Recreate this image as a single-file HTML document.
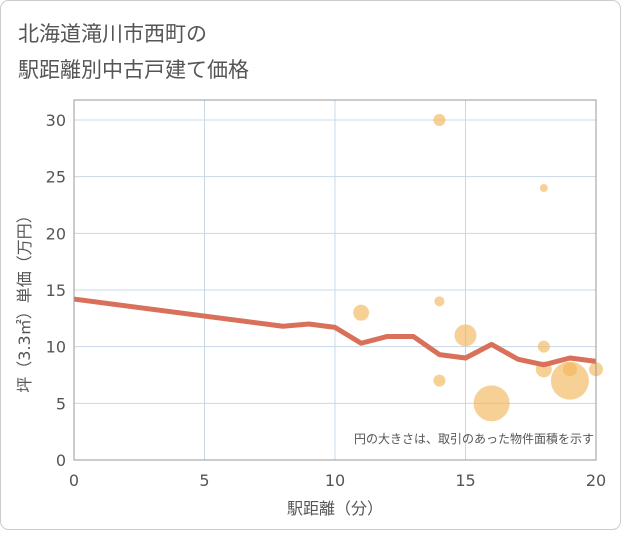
<!DOCTYPE html>
<html><head><meta charset="utf-8"><style>
body{margin:0;background:#fff;}
svg text{font-family:"DejaVu Sans","Noto Sans CJK JP",sans-serif;}
</style></head><body>
<svg width="621" height="530" xmlns="http://www.w3.org/2000/svg">
<rect x="0.5" y="0.5" width="620" height="529" rx="8" fill="#fff" stroke="#ccc"/>
<text x="18" y="41" font-size="21" fill="#555">北海道滝川市西町の</text>
<text x="18" y="77" font-size="21" fill="#555">駅距離別中古戸建て価格</text>
<g id="grid"></g>
<g id="bubbles"></g>
<path id="line" fill="none" stroke="#d9705a" stroke-width="5" stroke-linejoin="round"/>
<rect x="74" y="100" width="522" height="360" fill="none" stroke="#999"/>
<g id="ticks"></g>
<text x="335" y="514" font-size="16" fill="#555" text-anchor="middle">駅距離（分）</text>
<text transform="translate(30,300) rotate(-90)" font-size="16" fill="#555" text-anchor="middle">坪（3.3㎡）単価（万円）</text>
<text x="594" y="443" font-size="12" fill="#555" text-anchor="end">円の大きさは、取引のあった物件面積を示す</text>
</svg>
<script>
const xTicks=[0,5,10,15,20];
const yTicks=[0,5,10,15,20,25,30];
const lineX=[0,8,9,10,11,12,13,14,15,16,17,18,19,20];
const lineY=[14.2,11.8,12,11.7,10.3,10.9,10.9,9.3,9,10.2,8.9,8.4,9,8.7];
const bubX=[14,18,14,11,15,18,14,16,18,19,19,20];
const bubY=[30,24,14,13,11,10,7,5,8,8,7,8];
const bubR=[6,4,5,8,11,6,6,18,8,7,19,7];
const X=v=>74+v*522/20, Y=v=>460-v*340/30;
const NS="http://www.w3.org/2000/svg";
const g=document.getElementById('grid'),t=document.getElementById('ticks'),b=document.getElementById('bubbles');
function mk(tag,attrs,parent){const e=document.createElementNS(NS,tag);for(const k in attrs)e.setAttribute(k,attrs[k]);parent.appendChild(e);return e;}
xTicks.forEach(v=>{
 const l=mk('line',{x1:X(v),x2:X(v),y1:100,y2:460,stroke:'#c8d8e8'},g);
 
 
 const s=mk('text',{x:X(v),y:486,'font-size':16,fill:'#555','text-anchor':'middle'},t);s.textContent=v;
 
 
});
yTicks.forEach(v=>{
 const l=mk('line',{x1:74,x2:596,y1:Y(v),y2:Y(v),stroke:'#c8d8e8'},g);
 
 
 const s=mk('text',{x:66,y:Y(v)+6,'font-size':16,fill:'#555','text-anchor':'end'},t);s.textContent=v;
 
 
});
bubX.forEach((v,i)=>{
 const c=mk('circle',{cx:X(v),cy:Y(bubY[i]),r:bubR[i],fill:'rgba(242,183,92,0.65)'},b);
 
 
});
document.getElementById('line').setAttribute('d',lineX.map((v,i)=>(i?'L':'M')+X(v)+','+Y(lineY[i])).join(''));
</script>
</body></html>
